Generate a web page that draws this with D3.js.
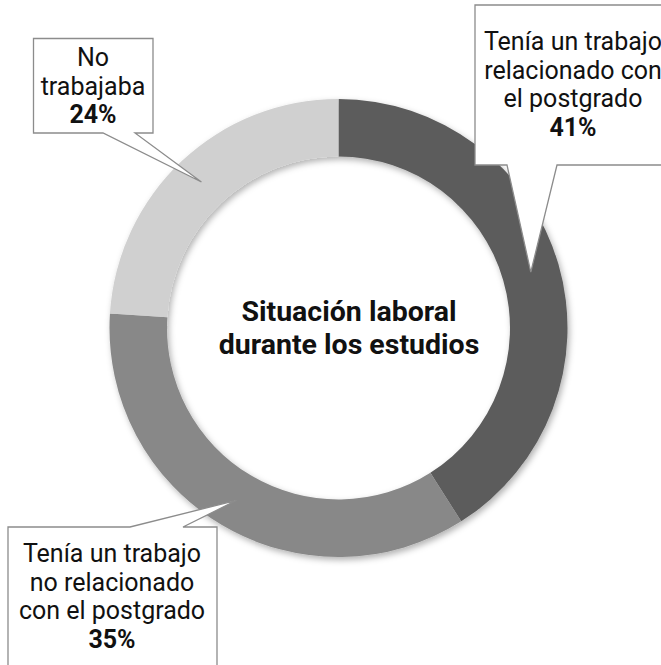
<!DOCTYPE html>
<html>
<head>
<meta charset="utf-8">
<script src="https://cdn.jsdelivr.net/npm/d3@7"></script>
<style>
  html, body { margin: 0; padding: 0; background: #ffffff; }
  svg { display: block; font-family: Roboto, "Noto Sans", sans-serif; }
</style>
</head>
<body>
<svg id="chart" width="661" height="665"></svg>
<script>
// Work situation during postgraduate studies (percent of respondents)
const categories = [
  "Tenía un trabajo relacionado con el postgrado",
  "Tenía un trabajo no relacionado con el postgrado",
  "No trabajaba"
];
const values = [41, 35, 24];
const labelLines = [
  ["Tenía un trabajo", "relacionado con", "el postgrado"],
  ["Tenía un trabajo", "no relacionado", "con el postgrado"],
  ["No", "trabajaba"]
];
const sliceColors = ["#5c5c5c", "#888888", "#d0d0d0"];
const titleLines = ["Situación laboral", "durante los estudios"];

const svg = d3.select("#chart");
const cx = 338.5, cy = 328;
const outerR = 229, innerR = 171.5;

const defs = svg.append("defs");
const shadow = defs.append("filter").attr("id", "ringShadow")
  .attr("x", "-20%").attr("y", "-20%").attr("width", "140%").attr("height", "140%");
shadow.append("feDropShadow")
  .attr("dx", 2).attr("dy", 3).attr("stdDeviation", 3)
  .attr("flood-color", "#000").attr("flood-opacity", 0.3);

const pie = d3.pie().sort(null).value(d => d.value);
const arc = d3.arc().innerRadius(innerR).outerRadius(outerR);
const data = categories.map((c, i) => ({ category: c, value: values[i], lines: labelLines[i], color: sliceColors[i] }));
const arcs = pie(data);

const ring = svg.append("g")
  .attr("transform", `translate(${cx},${cy})`)
  .attr("filter", "url(#ringShadow)");
ring.selectAll("path")
  .data(arcs)
  .join("path")
  .attr("d", arc)
  .attr("fill", d => d.data.color);

// Centre title
svg.append("text")
  .attr("text-anchor", "middle")
  .attr("font-size", 28.5).attr("font-weight", 700).attr("fill", "#111")
  .selectAll("tspan")
  .data(titleLines)
  .join("tspan")
  .attr("x", 349)
  .attr("y", (d, i) => 320.5 + i * 33)
  .text(d => d);

// Callout boxes: box edges, side carrying the pointer, pointer base, text anchor
const callouts = [
  { box: [475, 5, 671, 165], side: "bottom", base: [507, 557], tx: 573, ty: 50 },
  { box: [8, 527, 217, 680], side: "top", base: [130, 183], tx: 112, ty: 562 },
  { box: [33.5, 38.5, 153, 133], side: "bottom", base: [103, 135], tx: 93, ty: 66 }
];

const lineH = 28.5;
arcs.forEach((a, i) => {
  const c = callouts[i];
  const [x0, y0, x1, y1] = c.box;
  const [b1, b2] = c.base;
  const [px, py] = arc.centroid(a);
  const tip = [cx + px, cy + py];
  let p;
  if (c.side === "bottom") {
    p = `M${x0},${y0}L${x1},${y0}L${x1},${y1}L${b2},${y1}L${tip[0]},${tip[1]}L${b1},${y1}L${x0},${y1}Z`;
  } else {
    p = `M${x0},${y0}L${b1},${y0}L${tip[0]},${tip[1]}L${b2},${y0}L${x1},${y0}L${x1},${y1}L${x0},${y1}Z`;
  }
  svg.append("path")
    .attr("d", p)
    .attr("fill", "#ffffff")
    .attr("stroke", "#8c8c8c")
    .attr("stroke-width", 1.3)
    .attr("stroke-linejoin", "miter");

  const t = svg.append("text")
    .attr("text-anchor", "middle")
    .attr("font-size", 25)
    .attr("fill", "#111");
  a.data.lines.forEach((ln, j) => {
    t.append("tspan").attr("x", c.tx).attr("y", c.ty + j * lineH).text(ln);
  });
  t.append("tspan")
    .attr("x", c.tx)
    .attr("y", c.ty + a.data.lines.length * lineH)
    .attr("font-weight", 700)
    .text(d3.format("d")(a.data.value) + "%");
});
</script>
</body>
</html>
